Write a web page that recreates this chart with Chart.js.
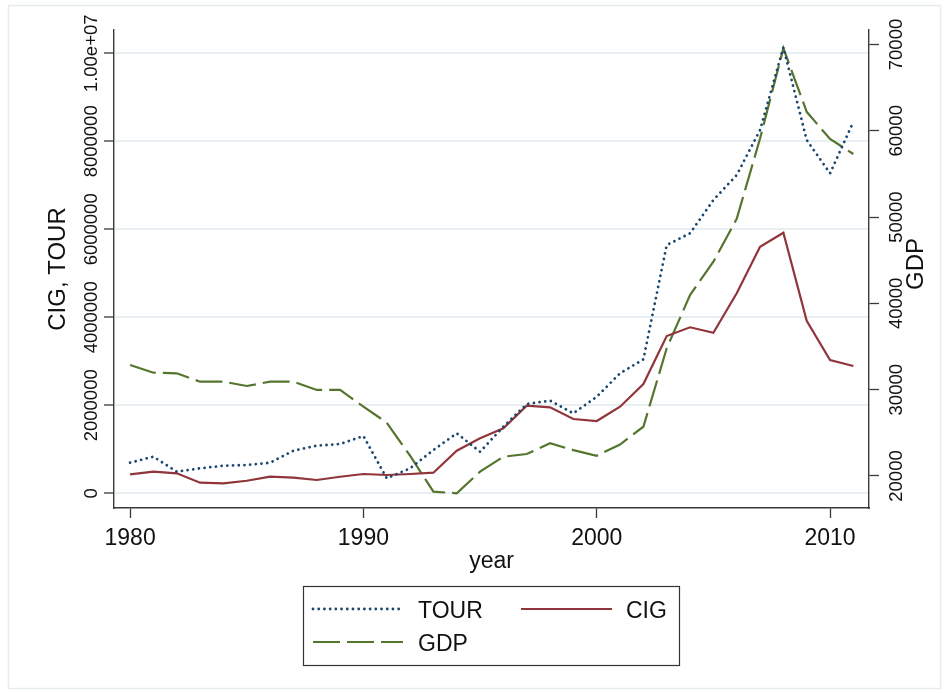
<!DOCTYPE html>
<html>
<head>
<meta charset="utf-8">
<script src="https://cdn.jsdelivr.net/npm/chart.js@4/dist/chart.umd.min.js"></script>
<style>
  html, body { margin: 0; padding: 0; background: #fff; }
  #wrap { position: relative; width: 947px; height: 693px; }
</style>
</head>
<body>
<div id="wrap"><canvas id="tourChart" width="947" height="693"></canvas></div>
<script>
// Data
const years = [1980, 1981, 1982, 1983, 1984, 1985, 1986, 1987, 1988, 1989,
               1990, 1991, 1992, 1993, 1994, 1995, 1996, 1997, 1998, 1999,
               2000, 2001, 2002, 2003, 2004, 2005, 2006, 2007, 2008, 2009,
               2010, 2011];
const tour = [695000, 832000, 491000, 568000, 627000, 643000, 695000, 968000, 1082000, 1120000,
              1302000, 341000, 568000, 984000, 1364000, 945000, 1514000, 2030000, 2105000, 1818000,
              2195000, 2727000, 3045000, 5643000, 5909000, 6666000, 7234000, 8257000, 10136000, 8030000,
              7273000, 8445000];
const cig = [432000, 491000, 455000, 241000, 227000, 286000, 377000, 355000, 302000, 377000,
             439000, 416000, 439000, 468000, 968000, 1250000, 1477000, 1991000, 1955000, 1689000,
             1643000, 1968000, 2484000, 3575000, 3773000, 3650000, 4545000, 5605000, 5923000, 3923000,
             3030000, 2893000];
const gdp = [32860, 31970, 31900, 30930, 30930, 30430, 30930, 30930, 29970, 29970,
             28030, 26180, 22350, 18180, 18000, 20500, 22240, 22550, 23790, 23000,
             22350, 23650, 25710, 34800, 40970, 44830, 49800, 59100, 69560, 62200,
             59050, 57310];

// Tick labels
const xTicks = [1980, 1990, 2000, 2010];
const leftTicks = [0, 2000000, 4000000, 6000000, 8000000, 10000000];
const leftTickLabels = ['0', '2000000', '4000000', '6000000', '8000000', '1.00e+07'];
const rightTicks = [20000, 30000, 40000, 50000, 60000, 70000];
const rightTickLabels = ['20000', '30000', '40000', '50000', '60000', '70000'];

const FONT = "'Liberation Sans', Arial, sans-serif";
const AXIS_COLOR = '#3a3a3a';
const TEXT_COLOR = '#111';

function pairs(values) {
    return years.map((y, i) => ({ x: y, y: values[i] }));
}

function fixTicks(values) {
    return scale => { scale.ticks = values.map(v => ({ value: v })); };
}

// Draws the rotated tick labels, axis titles, legend and outer frame
const stataText = {
    id: 'stataText',
    afterDraw(chart) {
        const ctx = chart.ctx;
        const x = chart.scales.x, yL = chart.scales.y, yR = chart.scales.y2;
        const area = chart.chartArea;
        ctx.save();
        ctx.fillStyle = TEXT_COLOR;

        // outer frame
        ctx.strokeStyle = '#e4ecf0';
        ctx.lineWidth = 1.5;
        ctx.strokeRect(8.5, 5.5, 932, 683);

        // x tick labels
        ctx.font = `23px ${FONT}`;
        ctx.textAlign = 'center';
        ctx.textBaseline = 'alphabetic';
        xTicks.forEach(v => ctx.fillText(String(v), x.getPixelForValue(v), 545));

        // x title
        ctx.fillText('year', (area.left + area.right) / 2, 568);

        const rotText = (txt, px, py, size) => {
            ctx.save();
            ctx.translate(px, py);
            ctx.rotate(-Math.PI / 2);
            ctx.font = `${size}px ${FONT}`;
            ctx.textAlign = 'center';
            ctx.textBaseline = 'alphabetic';
            ctx.fillText(txt, 0, 0);
            ctx.restore();
        };

        leftTicks.forEach((v, i) => rotText(leftTickLabels[i], 97, yL.getPixelForValue(v), 18.5));
        rightTicks.forEach((v, i) => rotText(rightTickLabels[i], 902, yR.getPixelForValue(v), 18.5));
        rotText('CIG, TOUR', 65, (area.top + area.bottom) / 2, 24);
        rotText('GDP', 923, 264, 24);

        // legend
        const box = { l: 303, t: 586, r: 679, b: 665 };
        ctx.strokeStyle = '#333';
        ctx.lineWidth = 1.2;
        ctx.strokeRect(box.l + 0.5, box.t + 0.5, box.r - box.l, box.b - box.t);
        const slots = [
            { x0: 313, x1: 403, y: 609, tx: 418 },
            { x0: 521, x1: 612, y: 609, tx: 626 },
            { x0: 313, x1: 403, y: 642, tx: 418 }
        ];
        chart.data.datasets.forEach((ds, i) => {
            const s = slots[i];
            ctx.save();
            ctx.strokeStyle = ds.borderColor;
            ctx.lineWidth = ds.borderWidth;
            ctx.lineCap = ds.borderCapStyle || 'butt';
            ctx.setLineDash(ds.borderDash || []);
            ctx.beginPath();
            ctx.moveTo(s.x0, s.y);
            ctx.lineTo(s.x1, s.y);
            ctx.stroke();
            ctx.restore();
            ctx.font = `23px ${FONT}`;
            ctx.textAlign = 'left';
            ctx.fillStyle = TEXT_COLOR;
            ctx.fillText(ds.label, s.tx, s.y + 9);
        });
        ctx.restore();
    }
};

const ctxMain = document.getElementById('tourChart').getContext('2d');
const tourChart = new Chart(ctxMain, {
    type: 'line',
    data: {
        datasets: [
            {
                label: 'TOUR', data: pairs(tour), yAxisID: 'y',
                borderColor: '#1a476f', borderWidth: 2.8, borderDash: [0.01, 5.7],
                borderCapStyle: 'round', pointRadius: 0, tension: 0
            },
            {
                label: 'CIG', data: pairs(cig), yAxisID: 'y',
                borderColor: '#90353b', borderWidth: 2.2, pointRadius: 0, tension: 0
            },
            {
                label: 'GDP', data: pairs(gdp), yAxisID: 'y2',
                borderColor: '#55752f', borderWidth: 2.2, borderDash: [27, 7],
                pointRadius: 0, tension: 0
            }
        ]
    },
    options: {
        responsive: false,
        animation: false,
        devicePixelRatio: 1,
        layout: { padding: { left: 104, right: 68, top: 30, bottom: 175 } },
        plugins: { legend: { display: false }, tooltip: { enabled: false } },
        scales: {
            x: {
                type: 'linear', min: 1979.31, max: 2011.67,
                afterBuildTicks: fixTicks(xTicks),
                ticks: { display: false },
                grid: { drawOnChartArea: false, tickLength: 10, tickColor: AXIS_COLOR, tickWidth: 1.3 },
                border: { color: AXIS_COLOR, width: 1.4 }
            },
            y: {
                position: 'left', min: -334000, max: 10530000,
                afterBuildTicks: fixTicks(leftTicks),
                ticks: { display: false },
                grid: { color: '#e8eff2', lineWidth: 2, tickLength: 10, tickColor: AXIS_COLOR, tickWidth: 1.3 },
                border: { color: AXIS_COLOR, width: 1.4 }
            },
            y2: {
                position: 'right', min: 16292, max: 71680,
                afterBuildTicks: fixTicks(rightTicks),
                ticks: { display: false },
                grid: { drawOnChartArea: false, tickLength: 10, tickColor: AXIS_COLOR, tickWidth: 1.3 },
                border: { color: AXIS_COLOR, width: 1.4 }
            }
        }
    },
    plugins: [stataText]
});
</script>
</body>
</html>
